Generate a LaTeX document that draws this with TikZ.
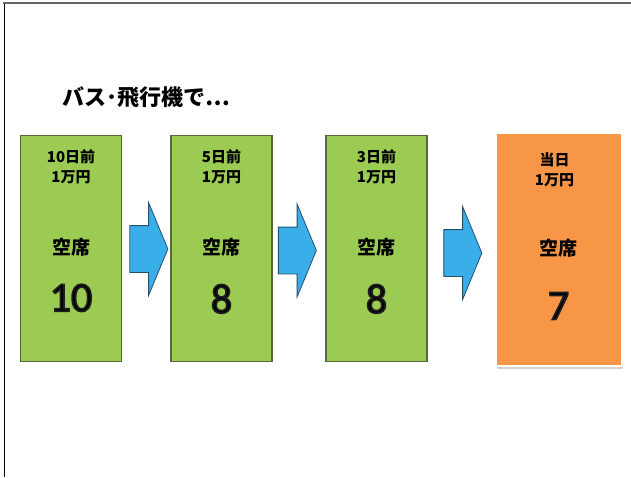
\documentclass[tikz,border=0pt]{standalone}
\usepackage{fontspec}
\usetikzlibrary{shapes.arrows,positioning,calc}
\newfontfamily\jpfont{Noto Sans CJK JP}
\newfontfamily\numfont{Carlito}
\definecolor{seatgreen}{HTML}{9BCB52}
\definecolor{seatedge}{HTML}{56683A}
\definecolor{todayorange}{HTML}{F79646}
\definecolor{arrowblue}{HTML}{3AAEE8}
\definecolor{arrowedge}{HTML}{24506E}
\newcommand{\outlined}[1]{\special{pdf:literal direct q 2 Tr 1.6 w 0.12 0.12 0.12 RG}#1\special{pdf:literal direct Q}}

\begin{document}
\begin{tikzpicture}[x=1pt,y=-1pt,
	daybox/.style={draw=seatedge,line width=1.2pt,fill=seatgreen,minimum width=101pt,minimum height=226pt,inner sep=0pt},
	todaybox/.style={draw=white,line width=2.5pt,fill=todayorange,minimum width=126.5pt,minimum height=233.5pt,inner sep=0pt},
	price/.style={font=\jpfont\bfseries\fontsize{15}{20}\selectfont,align=center,inner sep=0pt},
	seat/.style={font=\jpfont\bfseries\fontsize{19}{19}\selectfont,inner sep=0pt},
	count/.style={font=\numfont\fontsize{42}{42}\selectfont,inner sep=0pt},
	blockarrow/.style={single arrow,draw=arrowedge,fill=arrowblue,line width=0.8pt,single arrow head extend=23pt,single arrow tip angle=135,inner xsep=0pt,inner ysep=23pt,minimum height=38pt}]
			\useasboundingbox (0,0) rectangle (631,477);
			\draw[line width=1pt] (4,477) -- (4,3);
			\draw[gray!80!black,line width=2pt] (3,3) -- (631,3);
			\node[font=\jpfont\bfseries\fontsize{22}{22}\selectfont,anchor=west,inner sep=0pt] (title) at (62,97) {バス･飛行機で…};
			% seats left, n days before
			\node[daybox] (b10) at (71,248.5) {};
			\node[daybox] (b5) at (221.5,248.5) {};
			\node[daybox] (b3) at (376.5,248.5) {};
			\fill[gray!35] (497,136) rectangle (623,369);
			\node[todaybox] (b0) at (558.5,249) {};
			\node[price] (p10) at ($(b10.north)+(0,32)$) {10日前\\1万円};
			\node[price] (p5) at ($(b5.north)+(0,32)$) {5日前\\1万円};
			\node[price] (p3) at ($(b3.north)+(0,32)$) {3日前\\1万円};
			\node[price] (p0) at ($(b0.north)+(-4,39)$) {当日\\1万円};
			\node[seat] (s10) at ($(b10.north)+(0,112)$) {空席};
			\node[seat] (s5) at ($(b5.north)+(0,112)$) {空席};
			\node[seat] (s3) at ($(b3.north)+(0,112)$) {空席};
			\node[seat] (s0) at ($(b0.north)+(0,117)$) {空席};
			\node[count] (c10) at ($(b10.north)+(0,163)$) {\outlined{10}};
			\node[count] (c5) at ($(b5.north)+(0,164)$) {\outlined{8}};
			\node[count] (c3) at ($(b3.north)+(0,164)$) {\outlined{8}};
			\node[count] (c0) at ($(b0.north)+(0,175)$) {\outlined{7}};
			\node[blockarrow] (a1) at (144,249) {};
			\node[blockarrow] (a2) at (292.5,250.5) {};
			\node[blockarrow] (a3) at (458,253) {};
		\end{tikzpicture}
\end{document}
